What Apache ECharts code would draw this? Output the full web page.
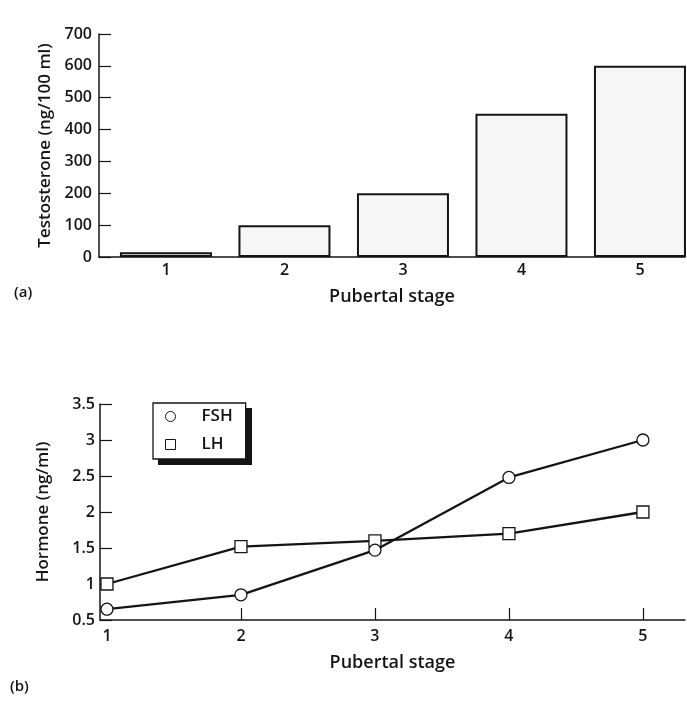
<!DOCTYPE html>
<html>
<head>
<meta charset="utf-8">
<script src="https://cdn.jsdelivr.net/npm/echarts@6/dist/echarts.min.js"></script>
<style>
html,body{margin:0;padding:0;background:#fff;}
#chart{width:687px;height:704px;}
</style>
</head>
<body>
<div id="chart"></div>
<script>
// ---- data ----
const stages = [1, 2, 3, 4, 5];
const stageLabels = ['1', '2', '3', '4', '5'];
const testosterone = [15, 100, 200, 450, 600];          // ng/100 ml
const testoTicks = [0, 100, 200, 300, 400, 500, 600, 700];
const fsh = [0.65, 0.85, 1.47, 2.48, 3.0];              // ng/ml
const lh = [1.0, 1.52, 1.6, 1.7, 2.0];                  // ng/ml
const hormoneTicks = [0.5, 1, 1.5, 2, 2.5, 3, 3.5];

const FONT = '"Open Sans"';
const INK = '#141414';
const tick = {color: INK, fontFamily: FONT, fontSize: 16, fontWeight: 600};
const nameX = {color: INK, fontFamily: FONT, fontSize: 18, fontWeight: 600};
const nameY = {color: INK, fontFamily: FONT, fontSize: 17, fontWeight: 600};

const chart = echarts.init(document.getElementById('chart'), null, {renderer: 'canvas'});

const option = {
  backgroundColor: '#fff',
  animation: false,
  textStyle: {fontFamily: FONT, color: INK},
  grid: [
    {left: 99, top: 34, width: 586, height: 223},
    {left: 100, top: 404, width: 585, height: 216}
  ],
  xAxis: [
    {
      gridIndex: 0, type: 'value',
      min: 0.435, max: 5.38,
      name: 'Pubertal stage', nameLocation: 'middle', nameGap: 31,
      nameTextStyle: nameX,
      axisLine: {show: true, lineStyle: {color: INK, width: 1.5}},
      axisTick: {show: false},
      splitLine: {show: false},
      axisLabel: Object.assign({customValues: stages, margin: 5,
        formatter: v => stageLabels[stages.indexOf(v)]}, tick)
    },
    {
      gridIndex: 1, type: 'value',
      min: 0.948, max: 5.314,
      name: 'Pubertal stage', nameLocation: 'middle', nameGap: 34,
      nameTextStyle: nameX,
      axisLine: {show: true, lineStyle: {color: INK, width: 1.5}},
      axisTick: {show: true, inside: true, length: 12, customValues: stages.slice(1),
        lineStyle: {color: INK, width: 1.2}},
      splitLine: {show: false},
      axisLabel: Object.assign({customValues: stages, margin: 8,
        formatter: v => stageLabels[stages.indexOf(v)]}, tick)
    }
  ],
  yAxis: [
    {
      gridIndex: 0, type: 'value',
      min: testoTicks[0], max: testoTicks[testoTicks.length - 1], interval: 100,
      name: 'Testosterone (ng/100 ml)', nameLocation: 'middle', nameGap: 45, nameRotate: 90,
      nameTextStyle: nameY,
      axisLine: {show: true, lineStyle: {color: INK, width: 1.5}},
      axisTick: {show: true, inside: true, length: 12, lineStyle: {color: INK, width: 1.2}},
      splitLine: {show: false},
      axisLabel: Object.assign({margin: 7}, tick)
    },
    {
      gridIndex: 1, type: 'value',
      min: hormoneTicks[0], max: hormoneTicks[hormoneTicks.length - 1], interval: 0.5,
      name: 'Hormone (ng/ml)', nameLocation: 'middle', nameGap: 48, nameRotate: 90,
      nameTextStyle: nameY,
      axisLine: {show: true, lineStyle: {color: INK, width: 1.5}},
      axisTick: {show: true, inside: true, length: 12, lineStyle: {color: INK, width: 1.2}},
      splitLine: {show: false},
      axisLabel: Object.assign({margin: 5}, tick)
    }
  ],
  legend: {
    left: 153, top: 403, z: 5,
    orient: 'vertical',
    data: [{name: 'FSH', icon: 'circle'}, {name: 'LH', icon: 'rect'}],
    itemWidth: 10, itemHeight: 10, itemGap: 11,
    padding: [5, 13, 6, 12],
    backgroundColor: '#fff',
    borderColor: INK, borderWidth: 1.3,
    itemStyle: {color: '#fff', borderColor: INK, borderWidth: 1},
    formatter: name => '{s|}' + name,
    textStyle: Object.assign({rich: {s: {width: 21}}}, nameY)
  },
  series: [
    {
      name: 'Testosterone', type: 'bar',
      xAxisIndex: 0, yAxisIndex: 0,
      barWidth: 92,
      data: stages.map((s, i) => [s, testosterone[i]]),
      itemStyle: {color: '#f6f6f6', borderColor: INK, borderWidth: 2}
    },
    {
      name: 'LH', type: 'line',
      xAxisIndex: 1, yAxisIndex: 1,
      data: stages.map((s, i) => [s, lh[i]]),
      symbol: 'rect', symbolSize: 12, showAllSymbol: true,
      lineStyle: {color: INK, width: 2.3},
      itemStyle: {color: '#fff', borderColor: INK, borderWidth: 1.3},
      z: 3
    },
    {
      name: 'FSH', type: 'line',
      xAxisIndex: 1, yAxisIndex: 1,
      data: stages.map((s, i) => [s, fsh[i]]),
      symbol: 'circle', symbolSize: 12, showAllSymbol: true,
      lineStyle: {color: INK, width: 2.3},
      itemStyle: {color: '#fff', borderColor: INK, borderWidth: 1.3},
      z: 4
    }
  ],
  graphic: [
    // drop shadow behind the legend box
    {type: 'rect', z: 1, shape: {x: 158, y: 408, width: 94, height: 57}, style: {fill: INK}},
    {type: 'text', left: 14, top: 285, style: {text: '(a)', fill: INK, font: '600 15px "Open Sans"'}},
    {type: 'text', left: 10, top: 679, style: {text: '(b)', fill: INK, font: '600 15px "Open Sans"'}}
  ]
};

chart.setOption(option);
</script>
</body>
</html>
